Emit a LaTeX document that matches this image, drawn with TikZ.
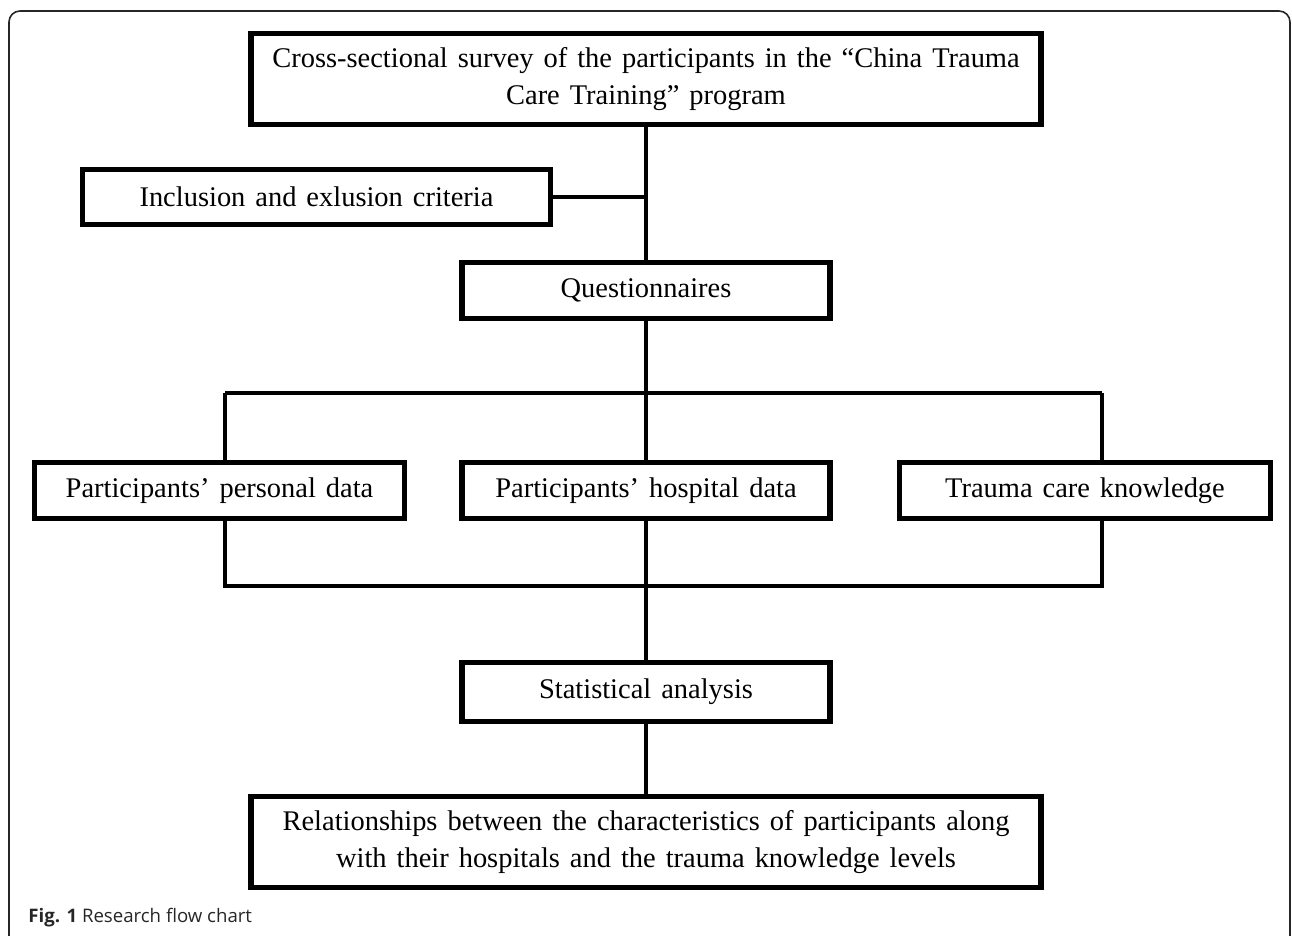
\documentclass[tikz,border=0pt]{standalone}
\usepackage{fontspec}
\setmainfont{Liberation Serif}[WordSpace=1.4]
\newfontfamily\capfont{Open Sans}

\begin{document}
\begin{tikzpicture}[x = 0.02cm, y = -0.02cm,
		block/.style = {draw, line width = 3pt, align = center, inner sep = 0pt, font = \fontsize{16.2}{21.5}\selectfont},
		link/.style = {line width = 2.6pt}]
	\useasboundingbox (0, 0) rectangle (1292, 936);
	\clip (0, 0) rectangle (1292, 936);
	% Frame
	\draw[line width = 0.9pt, color = black!85, rounded corners = 0.22cm] (9, 11) rectangle (1290, 990);
	
	% Nodes
	\node[block, minimum width = 15.8cm, minimum height = 1.82cm] (survey) at (646, 79) {Cross-sectional survey of the participants in the ``China Trauma\\Care Training'' program};
	\node[block, minimum width = 9.36cm, minimum height = 1.1cm] (criteria) at (316.5, 197) {Inclusion and exlusion criteria};
	\node[block, minimum width = 7.36cm, minimum height = 1.12cm] (quest) at (646, 290.5) {Questionnaires};
	\node[block, minimum width = 7.4cm, minimum height = 1.12cm] (personal) at (219.5, 490.5) {Participants' personal data};
	\node[block, minimum width = 7.36cm, minimum height = 1.12cm] (hospital) at (646, 490.5) {Participants' hospital data};
	\node[block, minimum width = 7.42cm, minimum height = 1.12cm] (knowledge) at (1085, 490.5) {Trauma care knowledge};
	\node[block, minimum width = 7.36cm, minimum height = 1.18cm] (stats) at (646, 692) {Statistical analysis};
	\node[block, minimum width = 15.8cm, minimum height = 1.82cm] (relation) at (646, 842) {Relationships between the characteristics of participants along\\with their hospitals and the trauma knowledge levels};
	
	% Bus points
	\coordinate (splitL) at (225, 393);
	\coordinate (splitR) at (1102, 393);
	\coordinate (joinL) at (225, 586);
	\coordinate (joinR) at (1102, 586);
	
	% Edges
	\draw[link] (survey) -- (quest);
	\draw[link] (criteria.east) -- (criteria.east -| survey.south);
	\draw[link] (quest) -- (hospital);
	\draw[link] (splitL) -- (splitR);
	\draw[link] (splitL) -- (splitL |- personal.north);
	\draw[link] (splitR) -- (splitR |- knowledge.north);
	\draw[link] (joinL |- personal.south) -- (joinL) -- (joinR) -- (joinR |- knowledge.south);
	\draw[link] (hospital) -- (stats);
	\draw[link] (stats) -- (relation);
	
	% Caption
	\node[anchor = base west, inner sep = 0pt, font = \capfont\fontsize{10.6}{13}\selectfont, color = black!85] (caption) at (28, 922) {\textbf{Fig. 1} Research flow chart};
\end{tikzpicture}
\end{document}
